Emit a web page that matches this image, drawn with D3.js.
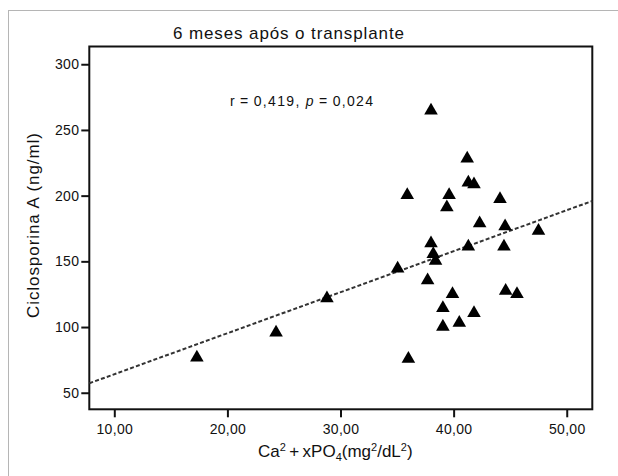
<!DOCTYPE html>
<html>
<head>
<meta charset="utf-8">
<script src="https://cdn.jsdelivr.net/npm/d3@7"></script>
<style>
  body { margin: 0; background: #fff; }
  svg { display: block; font-family: "Liberation Sans", Arial, sans-serif; }
  .tick text { fill: #111; }
</style>
</head>
<body>
<script>
// values
const caPO4 = [17.3, 24.3, 28.8, 35.05, 35.9, 36.0, 38.0, 38.2, 38.4, 37.7,
  38.0, 39.6, 39.4, 41.2, 41.3, 41.8, 42.3, 41.3, 39.9, 39.05,
  39.05, 40.5, 41.8, 44.1, 44.55, 44.45, 44.6, 45.6, 47.5];
const ciclosporina = [77.9, 97, 123, 145.7, 201.5, 76.9, 164.9, 156.7, 151.6, 136.6,
  265.8, 201.5, 192.3, 229.3, 211, 209.8, 180, 162.4, 126.2, 115.5,
  101.4, 104.3, 111.8, 198.6, 177.8, 162.4, 128.7, 126.2, 174.4];
const xTicks = [10, 20, 30, 40, 50];
const xTickLabels = ["10,00", "20,00", "30,00", "40,00", "50,00"];
const yTicks = [50, 100, 150, 200, 250, 300];
// fitted line shown in the chart: y = a + b*x
const fitIntercept = 32.9;
const fitSlope = 3.12;

const W = 618, H = 476;
const plotL = 89.3, plotR = 592.3, plotT = 46.5, plotB = 409.3;

const svg = d3.select("body").append("svg").attr("width", W).attr("height", H);

// outer light frame
svg.append("rect")
  .attr("x", 8.5).attr("y", 10.5).attr("width", 640).attr("height", 500)
  .attr("fill", "none").attr("stroke", "#b5b5b5").attr("stroke-width", 1);

const x = d3.scaleLinear().domain([7.79, 52.26]).range([plotL, plotR]);
const y = d3.scaleLinear().domain([37.4, 313.5]).range([plotB, plotT]);

// axes
const xAxis = svg.append("g")
  .attr("transform", `translate(0,${plotB})`)
  .call(d3.axisBottom(x).tickValues(xTicks).tickSize(8).tickPadding(7)
    .tickFormat((d, i) => xTickLabels[i]));
const yAxis = svg.append("g")
  .attr("transform", `translate(${plotL},0)`)
  .call(d3.axisLeft(y).tickValues(yTicks).tickSize(8).tickPadding(2));

[xAxis, yAxis].forEach(g => {
  g.select(".domain").remove();
  g.selectAll(".tick line").attr("stroke", "#111").attr("stroke-width", 2);
  g.selectAll(".tick text").attr("font-size", 14).attr("letter-spacing", 0.3);
});

// plot frame
svg.append("rect")
  .attr("x", plotL).attr("y", plotT)
  .attr("width", plotR - plotL).attr("height", plotB - plotT)
  .attr("fill", "none").attr("stroke", "#111").attr("stroke-width", 2);

// regression line
const xd = x.domain();
svg.append("line")
  .attr("x1", x(xd[0])).attr("y1", y(fitIntercept + fitSlope * xd[0]))
  .attr("x2", x(xd[1])).attr("y2", y(fitIntercept + fitSlope * xd[1]))
  .attr("stroke", "#333").attr("stroke-width", 2)
  .attr("stroke-dasharray", "4,2.2");

// points
const tri = d3.symbol(d3.symbolTriangle, 80);
svg.selectAll("path.pt")
  .data(caPO4.map((v, i) => [v, ciclosporina[i]]))
  .enter()
  .append("path")
  .attr("class", "pt")
  .attr("d", tri)
  .attr("transform", d => `translate(${x(d[0])},${y(d[1]) + 1.5})`)
  .attr("fill", "#000");

// title
svg.append("text")
  .attr("x", 173).attr("y", 39)
  .attr("font-size", 17).attr("fill", "#111")
  .attr("textLength", 231).attr("lengthAdjust", "spacing")
  .text("6 meses após o transplante");

// r and p annotation
const ann = svg.append("text")
  .attr("x", 230).attr("y", 106)
  .attr("font-size", 14).attr("fill", "#111")
  .attr("textLength", 143).attr("lengthAdjust", "spacing");
ann.append("tspan").text("r\u2009=\u20090,419, ");
ann.append("tspan").attr("font-style", "italic").text("p");
ann.append("tspan").text("\u2009=\u20090,024");

// y label
svg.append("text")
  .attr("transform", "translate(39,225.5) rotate(-90)")
  .attr("text-anchor", "middle")
  .attr("font-size", 17).attr("fill", "#111")
  .attr("textLength", 185).attr("lengthAdjust", "spacing")
  .text("Ciclosporina A (ng/ml)");

// x label
const xl = svg.append("text")
  .attr("x", 258).attr("y", 457)
  .attr("font-size", 17).attr("fill", "#111");
xl.append("tspan").text("Ca");
xl.append("tspan").attr("font-size", 11).attr("dy", -6).text("2");
xl.append("tspan").attr("dy", 6).text("\u2009+\u2009xPO");
xl.append("tspan").attr("font-size", 11).attr("dy", 4).text("4");
xl.append("tspan").attr("dy", -4).text("(mg");
xl.append("tspan").attr("font-size", 11).attr("dy", -6).text("2");
xl.append("tspan").attr("dy", 6).text("/dL");
xl.append("tspan").attr("font-size", 11).attr("dy", -6).text("2");
xl.append("tspan").attr("dy", 6).text(")");
</script>
</body>
</html>
